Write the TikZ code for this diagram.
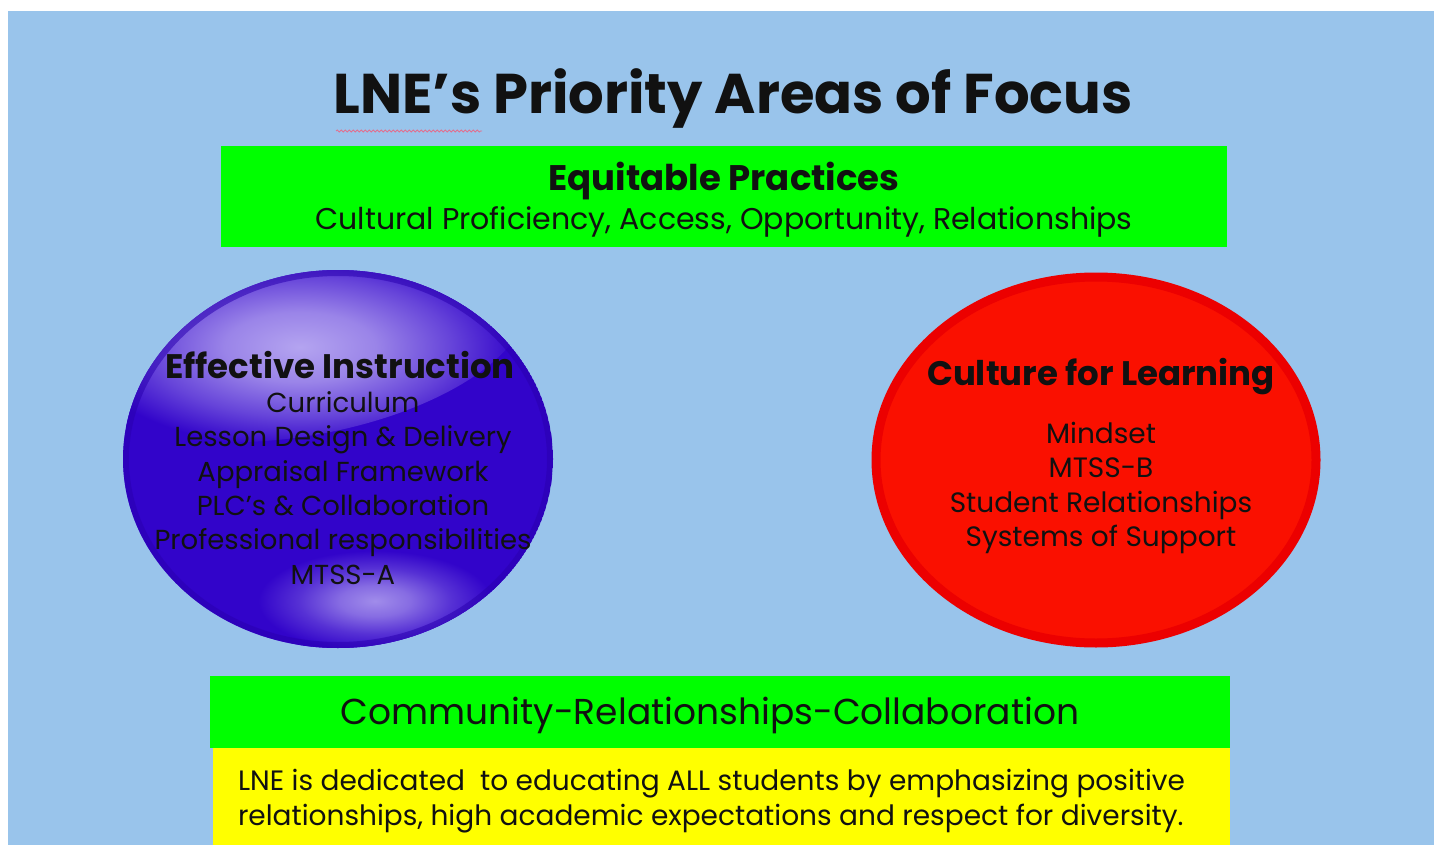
\documentclass[tikz,border=0pt]{standalone}
\usepackage{fontspec}
\setmainfont{Poppins}
\usetikzlibrary{decorations.pathmorphing}
\definecolor{bgblue}{HTML}{99C4EB}
\definecolor{lime}{HTML}{00FF00}
\definecolor{yel}{HTML}{FFFF00}
\definecolor{violet}{HTML}{3204CA}
\definecolor{violetdark}{HTML}{2A00B0}
\definecolor{lav}{HTML}{B4A4F0}
\definecolor{redfill}{HTML}{FA1000}
\definecolor{rededge}{HTML}{EC0000}
\definecolor{ink}{HTML}{111111}
\definecolor{squig}{HTML}{E07090}
\pgfdeclareradialshading{hilite}{\pgfpoint{0bp}{0bp}}{color(0bp)=(lav); color(8bp)=(lav!80!violet); color(16bp)=(lav!40!violet); color(23bp)=(violet); color(50bp)=(violet)}
\pgfdeclareradialshading{hilitesoft}{\pgfpoint{0bp}{0bp}}{color(0bp)=(lav!85!violet); color(7bp)=(lav!65!violet); color(15bp)=(lav!28!violet); color(23bp)=(violet); color(50bp)=(violet)}
\tikzset{
  txt/.style={inner sep=0pt, outer sep=0pt, text=ink, align=center},
  head/.style={txt, font=\fontsize{34}{38}\selectfont\bfseries},
  body/.style={txt, font=\fontsize{27.5}{34.4}\selectfont}
}
\begin{document}
\begin{tikzpicture}[x=1pt,y=-1pt]
\useasboundingbox (0,0) rectangle (1434,845);
\fill[white] (0,0) rectangle (1434,845);
\fill[bgblue] (8,11) rectangle (1434,845);
% title
\node[txt, font=\fontsize{56}{60}\selectfont\bfseries] (title) at (733,98) {LNE’s Priority Areas of Focus};
\draw[squig, line width=0.8pt, decorate, decoration={snake, segment length=4pt, amplitude=1pt}] (336,131) -- (482,131);
% top band
\fill[lime] (221,146) rectangle (1227,247);
\node[txt, font=\fontsize{35.5}{40}\selectfont\bfseries] (eq) at (724,181) {Equitable Practices};
\node[txt, font=\fontsize{30}{34}\selectfont] (eqsub) at (724,222) {Cultural Proficiency, Access, Opportunity, Relationships};
% left ellipse
\begin{scope}
\clip (338,459) ellipse [x radius=215, y radius=189];
\fill[violet] (338,459) ellipse [x radius=215, y radius=189];
\begin{scope}[shift={(300,336)}, rotate=10, xscale=2.3]
\shade[shading=hilite] (0,0) circle [radius=100];
\end{scope}
\begin{scope}[shift={(375,598)}, rotate=5, xscale=2.4]
\shade[shading=hilitesoft] (0,0) circle [radius=52];
\end{scope}
\draw[violetdark, line width=12pt, opacity=0.55] (338,459) ellipse [x radius=215, y radius=189];
\end{scope}
\node[head] (ei) at (340,365) {Effective Instruction};
\node[body] (eilist) at (343,488) {Curriculum\\Lesson Design \& Delivery\\Appraisal Framework\\PLC’s \& Collaboration\\Professional responsibilities\\MTSS-A};
% right ellipse
\fill[redfill, draw=rededge, line width=9pt] (1096,460) ellipse [x radius=220, y radius=183];
\node[head] (cl) at (1101,377) {Culture for Learning};
\node[txt, font=\fontsize{28}{34.5}\selectfont] (cllist) at (1101,488) {Mindset\\MTSS-B\\Student Relationships\\Systems of Support};
% bottom bands
\fill[lime] (210,676) rectangle (1230,748);
\node[txt, font=\fontsize{36}{40}\selectfont] (crc) at (710,715) {Community-Relationships-Collaboration};
\fill[yel] (213,748) rectangle (1230,845);
\node[txt, align=left, anchor=west, font=\fontsize{28}{34.5}\selectfont] (mission) at (238,801) {LNE is dedicated \ to educating ALL students by emphasizing positive\\relationships, high academic expectations and respect for diversity.};
\end{tikzpicture}
\end{document}
